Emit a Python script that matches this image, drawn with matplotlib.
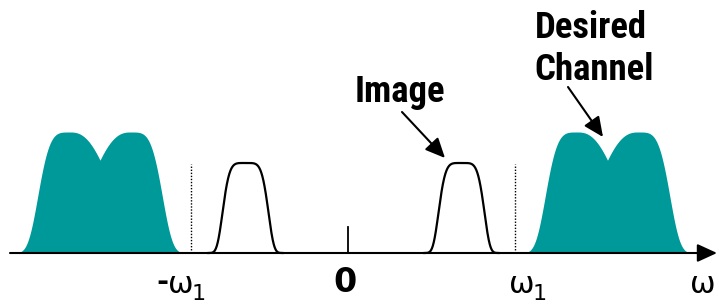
import numpy as np
import matplotlib
matplotlib.use("Agg")
import matplotlib.pyplot as plt
from matplotlib import font_manager

# spectrum sketch, frequency units are arbitrary (zero at the origin tick)
channel_centers = [-248, 259.5]     # desired channel and its mirror
channel_height = 121
image_centers = [-102.5, 113.5]
image_height = 90
omega1 = [-157, 167]                # dotted omega_1 markers
omega1_height = 89
zero_tick_height = 26

teal = "#009999"


def half_hump(x, c, w_in, p_in, w_out, p_out, outer_sign):
    # asymmetric super-gaussian: rounded on the inner side, steep on the outer
    u = x - c
    outer = np.sign(u) == outer_sign
    w = np.where(outer, w_out, w_in)
    p = np.where(outer, p_out, p_in)
    return np.exp(-np.abs(u / w) ** p)


def channel_shape(x, c):
    d = 30
    left = half_hump(x, c - d, 51, 2.5, 34.5, 4.2, -1)
    right = half_hump(x, c + d, 51, 2.5, 34.5, 4.2, 1)
    return channel_height * np.maximum(left, right)


def image_shape(x, c):
    return image_height * np.exp(-np.abs((x - c) / 24.0) ** 5.2)


def pick_narrow_bold():
    prefer = ["Liberation Sans Narrow", "Arial Narrow", "Roboto Condensed",
              "Open Sans Condensed", "DejaVu Sans Condensed", "Noto Sans Condensed"]
    fonts = font_manager.fontManager.ttflist
    bold = [f for f in fonts if f.weight in ("bold", 700, "700")]
    for name in prefer:
        for f in bold:
            if f.name == name:
                return font_manager.FontProperties(fname=f.fname), True
    for f in bold:
        if f.stretch in ("condensed", "semi-condensed", "extra-condensed") or \
                "Condensed" in f.fname or "Narrow" in f.fname:
            return font_manager.FontProperties(fname=f.fname), True
    return font_manager.FontProperties(family="Liberation Sans", weight="bold"), False


fig = plt.figure(figsize=(7.19, 3.05), dpi=100)
ax = fig.add_axes([0, 0, 1, 1])
ax.set_xlim(-348, 371)
ax.set_ylim(-52, 253)
ax.axis("off")

# desired channel (filled)
for c in channel_centers:
    xs = np.linspace(c - 80, c + 80, 800)
    ax.fill_between(xs, 0, channel_shape(xs, c), color=teal, lw=0, zorder=2)

# image bands (outline only)
for c in image_centers:
    xs = np.linspace(c - 37, c + 37, 400)
    ax.plot(xs, image_shape(xs, c), color="black", lw=1.6, zorder=3)

# dotted omega_1 markers
for w1 in omega1:
    ax.plot([w1, w1], [0, omega1_height], color="black", lw=1.0,
            ls=(0, (1, 1.2)), zorder=3)

# zero tick
ax.plot([0, 0], [0, zero_tick_height], color="black", lw=1.3, zorder=3)

# frequency axis with arrow head
ax.annotate("", xy=(369, 0), xytext=(-338, 0),
            arrowprops=dict(arrowstyle="-|>,head_length=1.2,head_width=0.55",
                            color="black", lw=1.5, shrinkA=0, shrinkB=0),
            zorder=4)

# annotations
fp, is_narrow = pick_narrow_bold()
size = 26.5 if is_narrow else 22.5
ax.text(52, 151, "Image", fontproperties=fp, fontsize=size,
        ha="center", va="baseline")
ax.text(243, 215, "Desired", fontproperties=fp, fontsize=size,
        ha="center", va="baseline")
ax.text(246, 173, "Channel", fontproperties=fp, fontsize=size,
        ha="center", va="baseline")

arrow_kw = dict(arrowstyle="-|>,head_length=1.2,head_width=0.55",
                color="black", lw=1.5, shrinkA=0, shrinkB=0)
ax.annotate("", xy=(97, 95), xytext=(54, 141), arrowprops=arrow_kw)
ax.annotate("", xy=(255, 116), xytext=(220, 166), arrowprops=arrow_kw)

# axis labels
ax.text(-3, -29, "0", fontsize=24, fontweight="bold", family="DejaVu Sans",
        ha="center", va="center")
ax.text(-186, -29, "-", fontsize=21, fontweight="bold", family="DejaVu Sans",
        ha="center", va="center")
ax.text(-167.5, -31.5, "ω", fontsize=22, family="DejaVu Sans",
        ha="center", va="center")
ax.text(-149, -40.5, "1", fontsize=16, family="DejaVu Sans",
        ha="center", va="center")
ax.text(173.5, -31.5, "ω", fontsize=22, family="DejaVu Sans",
        ha="center", va="center")
ax.text(192, -40.5, "1", fontsize=16, family="DejaVu Sans",
        ha="center", va="center")
ax.text(355, -31.5, "ω", fontsize=22, family="DejaVu Sans",
        ha="center", va="center")

fig.savefig("out.png", dpi=100, facecolor="white")
